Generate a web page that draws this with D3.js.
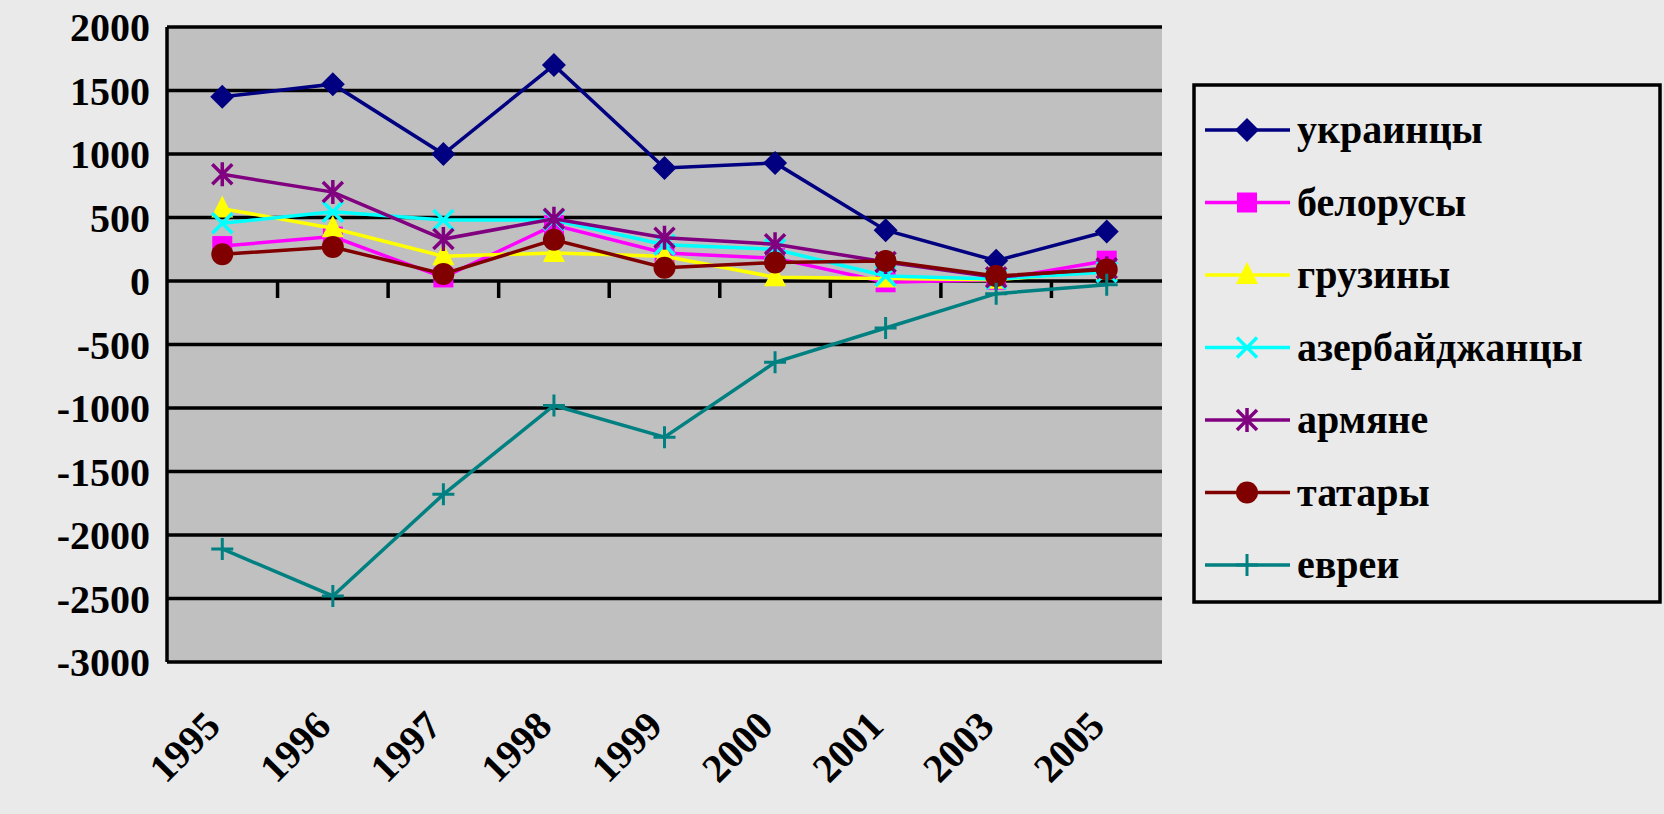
<!DOCTYPE html>
<html><head><meta charset="utf-8">
<script src="https://cdn.jsdelivr.net/npm/d3@7"></script>
<style>body{margin:0;background:#eaeaea;}text{font-family:"Liberation Serif","Times New Roman",serif;font-weight:bold;}</style>
</head><body><svg id="c" width="1664" height="814"></svg>
<script>
const years = ["1995","1996","1997","1998","1999","2000","2001","2003","2005"];
const yTicks = [2000,1500,1000,500,0,-500,-1000,-1500,-2000,-2500,-3000];
const names = ["украинцы","белорусы","грузины","азербайджанцы","армяне","татары","евреи"];
const colors = ["#000080","#ff00ff","#ffff00","#00ffff","#800080","#800000","#008080"];
const ukr = [1450,1550,1000,1700,890,930,400,160,390];
const bel = [275,350,28,440,220,180,-10,10,160];
const gru = [570,415,195,220,195,30,20,10,80];
const aze = [455,545,480,480,285,250,40,15,70];
const arm = [840,700,330,490,340,290,150,30,100];
const tat = [210,268,55,325,105,145,157,40,90];
const evr = [-2110,-2480,-1680,-980,-1230,-640,-370,-100,-30];
const series = [ukr,bel,gru,aze,arm,tat,evr];
const symbols = ["diamond","square","triangle","x","star","circle","plus"];

const svg = d3.select("#c");
const L=167,R=1162,T=27,B=662;
const x = d3.scaleBand().domain(years).range([L,R]);
const y = d3.scaleLinear().domain([-3000,2000]).range([B,T]);
svg.append("rect").attr("x",L).attr("y",T).attr("width",R-L).attr("height",B-T).attr("fill","#c0c0c0");
svg.selectAll(".g").data(yTicks).enter().append("line").attr("x1",L).attr("x2",R)
  .attr("y1",d=>y(d)).attr("y2",d=>y(d)).attr("stroke","#000").attr("stroke-width",3.5);
svg.append("line").attr("x1",L).attr("x2",L).attr("y1",T).attr("y2",B).attr("stroke","#000").attr("stroke-width",3.5);
svg.selectAll(".yt").data(yTicks).enter().append("text").attr("x",150).attr("y",d=>y(d)+14)
  .attr("text-anchor","end").attr("font-size",40).text(d=>d);
svg.selectAll(".ct").data(years.slice(1)).enter().append("line")
  .attr("x1",d=>x(d)).attr("x2",d=>x(d)).attr("y1",y(0)).attr("y2",y(0)+17).attr("stroke","#000").attr("stroke-width",3.5);
svg.selectAll(".xl").data(years).enter().append("text")
  .attr("transform",d=>`translate(${x(d)+x.bandwidth()/2},${728}) rotate(-45)`)
  .attr("text-anchor","end").attr("font-size",40).text(d=>d);

function marker(g,type,color,cx,cy){
  const s=12;
  if(type==="diamond") g.append("path").attr("d",`M${cx},${cy-s}L${cx+s},${cy}L${cx},${cy+s}L${cx-s},${cy}Z`).attr("fill",color);
  else if(type==="square") g.append("rect").attr("x",cx-10).attr("y",cy-10).attr("width",20).attr("height",20).attr("fill",color);
  else if(type==="triangle") g.append("path").attr("d",`M${cx},${cy-13}L${cx+11},${cy+9}L${cx-11},${cy+9}Z`).attr("fill",color);
  else if(type==="circle") g.append("circle").attr("cx",cx).attr("cy",cy).attr("r",11).attr("fill",color);
  else if(type==="x") g.append("path").attr("d",`M${cx-10},${cy-10}L${cx+10},${cy+10}M${cx-10},${cy+10}L${cx+10},${cy-10}`).attr("stroke",color).attr("stroke-width",3.5);
  else if(type==="star") g.append("path").attr("d",`M${cx-10},${cy-10}L${cx+10},${cy+10}M${cx-10},${cy+10}L${cx+10},${cy-10}M${cx},${cy-12}L${cx},${cy+12}`).attr("stroke",color).attr("stroke-width",3.5);
  else if(type==="plus") g.append("path").attr("d",`M${cx-11},${cy}L${cx+11},${cy}M${cx},${cy-11}L${cx},${cy+11}`).attr("stroke",color).attr("stroke-width",3);
}
const line = d3.line().x((d,i)=>x(years[i])+x.bandwidth()/2).y(d=>y(d));
series.forEach((s,k)=>{
  const g=svg.append("g");
  g.append("path").attr("d",line(s)).attr("fill","none").attr("stroke",colors[k]).attr("stroke-width",3.5);
  s.forEach((v,i)=>marker(g,symbols[k],colors[k],x(years[i])+x.bandwidth()/2,y(v)));
});
svg.append("rect").attr("x",1194).attr("y",85).attr("width",466).attr("height",517).attr("fill","#eaeaea").attr("stroke","#000").attr("stroke-width",3.5);
names.forEach((n,k)=>{
  const ly=130+k*72.5, g=svg.append("g");
  g.append("line").attr("x1",1205).attr("x2",1290).attr("y1",ly).attr("y2",ly).attr("stroke",colors[k]).attr("stroke-width",3.5);
  marker(g,symbols[k],colors[k],1247,ly);
  g.append("text").attr("x",1297).attr("y",ly+13).attr("font-size",40).text(n);
});
</script></body></html>
